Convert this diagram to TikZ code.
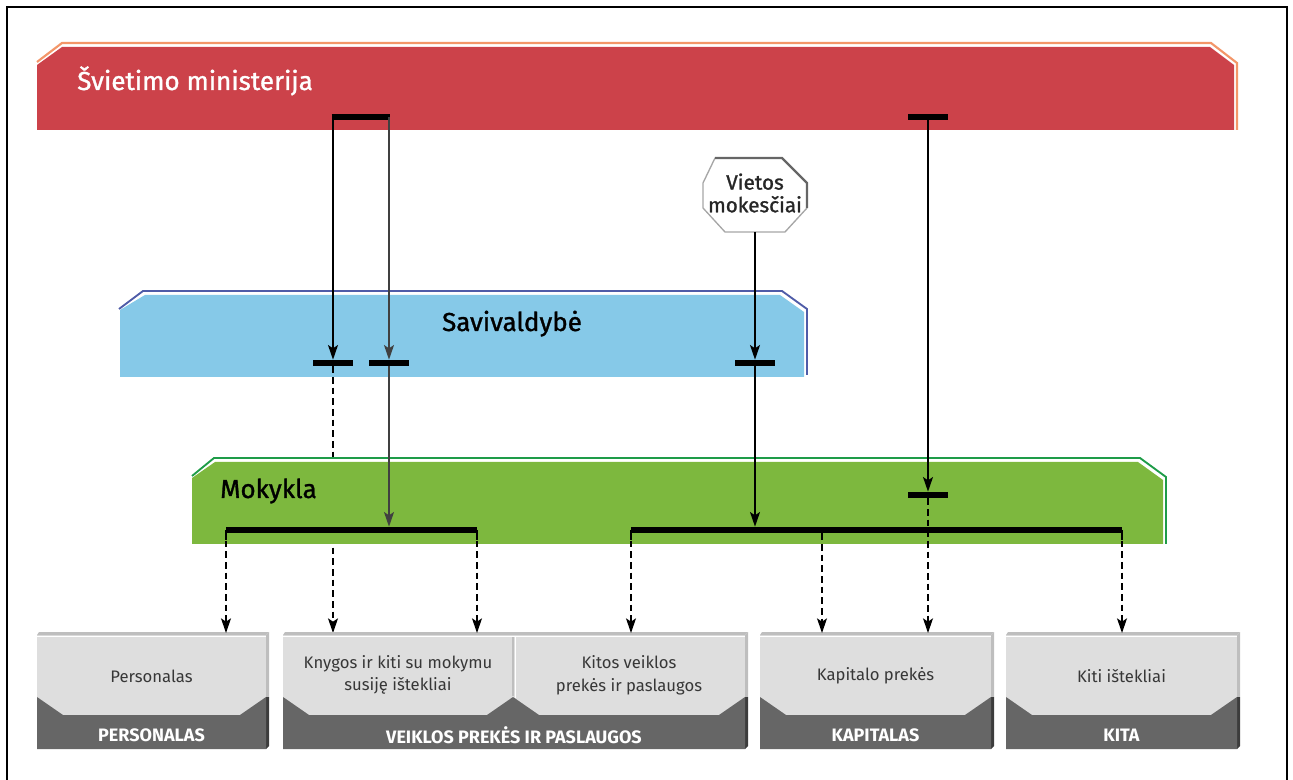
\documentclass[tikz,border=0pt]{standalone}
\usepackage{fontspec}
\setmainfont{Fira Sans}
\newfontfamily\titlefont{Fira Sans}[FakeBold=1.2]
\usetikzlibrary{arrows.meta}

\definecolor{ministry}{RGB}{204,66,74}
\definecolor{ministryedge}{RGB}{243,150,105}
\definecolor{municip}{RGB}{134,201,232}
\definecolor{municipedge}{RGB}{79,92,168}
\definecolor{school}{RGB}{125,184,62}
\definecolor{schooledge}{RGB}{30,156,72}
\definecolor{boxlight}{RGB}{222,222,222}
\definecolor{boxdark}{RGB}{102,102,102}
\definecolor{boxtext}{RGB}{55,55,55}
\definecolor{bevel}{RGB}{190,190,190}
\definecolor{beveldark}{RGB}{60,60,60}

\tikzset{
  bar/.style={line width=4.5pt},
  flow/.style={line width=1.1pt,-{Stealth[length=11pt,width=7.5pt,inset=2.5pt]}},
  dflow/.style={flow,dash pattern=on 5pt off 3pt},
  bandtitle/.style={font=\titlefont\fontsize{19.5}{22}\selectfont,inner sep=0pt},
  boxlabel/.style={font=\fontsize{12.5}{17}\selectfont,text=boxtext,align=center},
  boxcaption/.style={font=\bfseries\fontsize{13.5}{15}\selectfont,text=white},
}

% one cost category box: light upper part with bevelled top and right edge
\newcommand\costbox[2]{%
  \fill[boxlight] (#1,635) rectangle (#2,749);
  \fill[bevel] (#1,635) -- ({#1+2},632) -- ({#2+3},632) -- (#2,635) -- cycle;
  \draw[white,line width=0.6pt] (#1,636.5) -- (#2,636.5);
  \fill[bevel] (#2,635) -- ({#2+3},632) -- ({#2+3},697) -- (#2,697) -- cycle;
  \fill[beveldark] (#2,697) -- ({#2+3},697) -- ({#2+3},746) -- (#2,749) -- cycle;
}

\begin{document}
\begin{tikzpicture}[x=0.75pt,y=-0.75pt]
\useasboundingbox (0,0) rectangle (1293,780);

% frame
\draw[line width=1.6pt] (7,781) -- (7,7) -- (1287,7) -- (1287,781);

% ministry band
\fill[ministry] (37,130) -- (37,65) -- (62,47) -- (1210,47) -- (1234,65) -- (1234,130) -- cycle;
\draw[ministryedge,line width=1.6pt] (37,62) -- (62,43) -- (1211,43) -- (1237,63) -- (1237,130);
\node[bandtitle,text=white,anchor=base west] (ministry) at (77,90) {Švietimo ministerija};

% municipality band
\fill[municip] (120,377) -- (120,310) -- (145,295) -- (780,295) -- (804,312) -- (804,377) -- cycle;
\draw[municipedge,line width=1.4pt] (119,309) -- (143,291) -- (782,291) -- (807,309) -- (807,375);
\node[bandtitle,anchor=base] (municip) at (512,331) {Savivaldybė};

% dashed flow that passes behind the school band
\coordinate (s1) at (333,363);
\coordinate (pers2) at (333,633);
\draw[dflow] ([yshift=-2.5pt]s1) -- (pers2);

% school band
\fill[school] (192,544) -- (192,478) -- (215,462) -- (1138,462) -- (1163,480) -- (1163,544) -- cycle;
\draw[schooledge,line width=1.4pt] (192,476) -- (214,458) -- (1140,458) -- (1166,477) -- (1166,544);
\node[bandtitle,anchor=base west] (school) at (220,498) {Mokykla};

% local taxes octagon
\draw[gray!70,line width=1pt,fill=white] (715,158) -- (782,158) -- (807,183) -- (807,208) -- (785,232) -- (725,232) -- (703,208) -- (703,183) -- cycle;
\draw[gray!80!black,line width=1.8pt] (715,158) -- (782,158) -- (807,183) -- (807,208);
\node[align=center,font=\titlefont\fontsize{15.5}{17}\selectfont,text=black!85] (taxes) at (755,193) {Vietos\\mokesčiai};
\coordinate (taxesbot) at (755,232);

% distribution bars
\coordinate (r1a) at (333,117);
\coordinate (r1b) at (389,117);
\coordinate (r2) at (928,117);
\coordinate (s2) at (389,363);
\coordinate (s3) at (755,363);
\coordinate (m0) at (928,495);
\coordinate (mla) at (226,530);
\coordinate (mlb) at (477,530);
\coordinate (mlin) at (389,530);
\coordinate (mra) at (631,530);
\coordinate (mrb) at (1122,530);
\coordinate (mrin) at (755,530);
\coordinate (mrk) at (822,530);

\draw[bar] ([xshift=-1pt]r1a) -- ([xshift=1pt]r1b);
\draw[bar] ([xshift=-15pt]r2) -- ([xshift=15pt]r2);
\draw[bar] ([xshift=-15pt]s1) -- ([xshift=15pt]s1);
\draw[bar] ([xshift=-15pt]s2) -- ([xshift=15pt]s2);
\draw[bar] ([xshift=-15pt]s3) -- ([xshift=15pt]s3);
\draw[bar] ([xshift=-15pt]m0) -- ([xshift=15pt]m0);
\draw[line width=4.5pt] (mla) -- (mlb);
\draw[line width=4.5pt] (mra) -- (mrb);
\draw[line width=1.1pt] (mla) -- ++(0,10);
\draw[line width=1.1pt] (mlb) -- ++(0,10);
\draw[line width=1.1pt] (mra) -- ++(0,10);
\draw[line width=1.1pt] (mrb) -- ++(0,10);

% solid flows
\draw[flow] (r1a) -- ([yshift=2.5pt]s1);
\draw[flow,black!75] (r1b) -- ([yshift=2.5pt]s2);
\draw[flow,black!75] ([yshift=-2.5pt]s2) -- ([yshift=2.5pt]mlin);
\draw[flow] (taxesbot) -- ([yshift=2.5pt]s3);
\draw[flow] ([yshift=-2.5pt]s3) -- ([yshift=2.5pt]mrin);
\draw[flow] (r2) -- ([yshift=2.5pt]m0);

% cost category boxes
\costbox{37}{266}
\costbox{283}{745}
\costbox{760}{991}
\costbox{1006}{1237}
\fill[boxdark] (37,697) -- (63,715) -- (240,715) -- (266,697) -- (266,749) -- (37,749) -- cycle;
\fill[boxdark] (283,697) -- (309,715) -- (487,715) -- (513,697) -- (539,715) -- (719,715) -- (745,697) -- (745,749) -- (283,749) -- cycle;
\fill[boxdark] (760,697) -- (786,715) -- (965,715) -- (991,697) -- (991,749) -- (760,749) -- cycle;
\fill[boxdark] (1006,697) -- (1032,715) -- (1211,715) -- (1237,697) -- (1237,749) -- (1006,749) -- cycle;
\draw[bevel,line width=1.5pt] (513,637) -- (513,696);
\draw[white,line width=0.6pt] (515,637) -- (515,698);

\node[boxlabel] (pers) at (151.5,676) {Personalas};
\node[boxlabel] (books) at (398,675) {Knygos ir kiti su mokymu\\susiję ištekliai};
\node[boxlabel] (other) at (629,675) {Kitos veiklos\\prekės ir paslaugos};
\node[boxlabel] (capital) at (875.5,676) {Kapitalo prekės};
\node[boxlabel] (misc) at (1121.5,676) {Kiti ištekliai};

\node[boxcaption] (capPers) at (151.5,735) {PERSONALAS};
\node[boxcaption] (capOps) at (514,735) {VEIKLOS PREKĖS IR PASLAUGOS};
\node[boxcaption] (capCap) at (875.5,735) {KAPITALAS};
\node[boxcaption] (capMisc) at (1121.5,735) {KITA};

% arrow targets on top of boxes
\coordinate (pers1) at (226,633);
\coordinate (books1) at (477,633);
\coordinate (other1) at (631,633);
\coordinate (cap1) at (822,633);
\coordinate (cap2) at (928,633);
\coordinate (misc1) at (1122,633);

% dashed flows down to the categories
\draw[dflow] ([yshift=-8pt]mla) -- (pers1);
\draw[dflow] ([yshift=-8pt]mlb) -- (books1);
\draw[dflow] ([yshift=-8pt]mra) -- (other1);
\draw[dflow] ([yshift=-2.5pt]mrk) -- (cap1);
\draw[dflow] ([yshift=-2.5pt]m0) -- (cap2);
\draw[dflow] ([yshift=-8pt]mrb) -- (misc1);
\end{tikzpicture}
\end{document}
